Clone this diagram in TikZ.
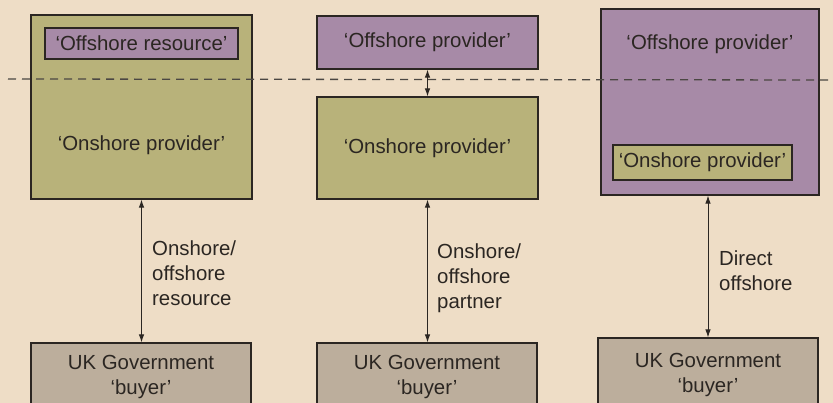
\documentclass[tikz,border=0pt]{standalone}
\usepackage{fontspec}
\setmainfont{Liberation Sans}
\usetikzlibrary{arrows.meta}
\definecolor{paper}{HTML}{EEDDC6}
\definecolor{onshore}{HTML}{B8B27A}
\definecolor{offshore}{HTML}{A78AA7}
\definecolor{buyer}{HTML}{BCAE9C}
\definecolor{ink}{HTML}{2B2622}
\begin{document}
\begin{tikzpicture}[x=1pt,y=-1pt,
  font=\fontsize{20.4}{25}\selectfont, text=ink,
  box/.style={draw=ink,line width=1.1pt,inner sep=0pt,align=center},
  onbox/.style={box,fill=onshore},
  offbox/.style={box,fill=offshore},
  buyerbox/.style={box,fill=buyer,minimum width=220pt},
  link/.style={draw=ink,line width=0.9pt,{Latex[length=8pt,width=5.5pt]}-{Latex[length=8pt,width=5.5pt]}},
  tag/.style={anchor=north west,inner sep=0pt,align=left}]

\fill[paper] (0,0) rectangle (833,403);
\useasboundingbox (0,0) rectangle (833,403);

% onshore resource
\node[onbox,minimum width=221pt,minimum height=184pt] (onL) at (141.5,107) {};
\node[offbox,minimum width=193pt,minimum height=31pt] (offL) at (141.5,43.5) {‘Offshore resource’};
\node (onLtxt) at (141.5,145) {‘Onshore provider’};
\node[buyerbox,minimum height=67pt] (bL) at (141,376.5) {UK Government\\‘buyer’};

% onshore partner
\node[offbox,minimum width=221pt,minimum height=53pt] (offM) at (427.5,42.5) {‘Offshore provider’};
\node[onbox,minimum width=221pt,minimum height=102pt] (onM) at (427.5,148) {‘Onshore provider’};
\node[buyerbox,minimum height=67pt] (bM) at (427,376.5) {UK Government\\‘buyer’};

% direct offshore
\node[offbox,minimum width=218pt,minimum height=186pt] (offR) at (710,102) {};
\node (offRtxt) at (710,44) {‘Offshore provider’};
\node[onbox,minimum width=179pt,minimum height=35pt] (onR) at (702.5,162.5) {‘Onshore provider’};
\node[buyerbox,minimum height=73pt] (bR) at (708,374.5) {UK Government\\‘buyer’};

\coordinate (dashL) at (8,79);
\coordinate (dashR) at (833,80);
\draw[ink!85,line width=1.3pt,dash pattern=on 8pt off 6pt] (dashL) -- (dashR);

\draw[link] (offM) -- (onM);
\draw[link] (onL.south) -- (onL.south |- bL.north);
\draw[link] (onM.south) -- (onM.south |- bM.north);
\draw[link] (offR.south -| bR) -- (bR.north);

\node[tag] (tagL) at (152,241) {Onshore/\\offshore\\resource};
\node[tag] (tagM) at (437,244) {Onshore/\\offshore\\partner};
\node[tag] (tagR) at (719,251) {Direct\\offshore};

\end{tikzpicture}
\end{document}
